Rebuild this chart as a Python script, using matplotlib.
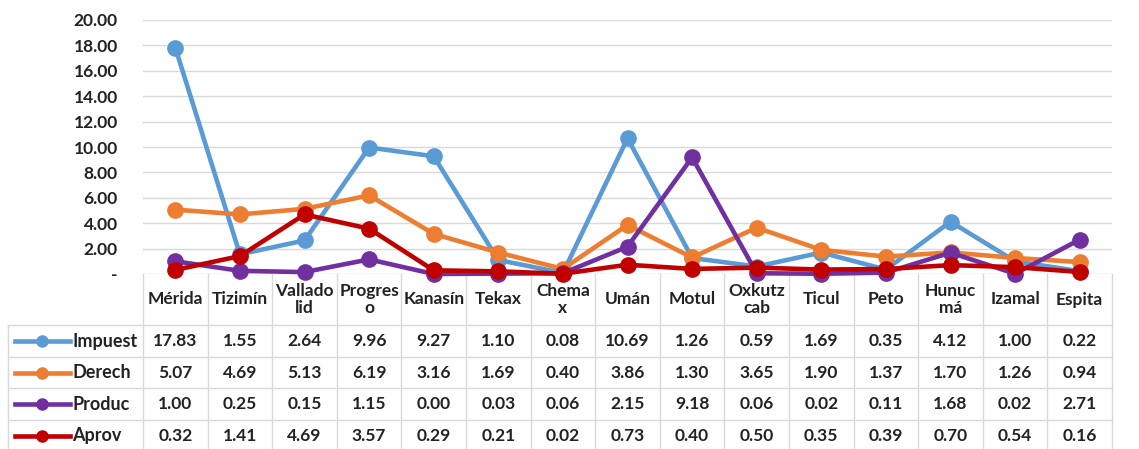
import matplotlib.pyplot as plt
from matplotlib.lines import Line2D

plt.rcParams['font.family'] = ['Lato', 'DejaVu Sans']
plt.rcParams['font.weight'] = 'bold'

municipios = ['Mérida', 'Tizimín', 'Vallado\nlid', 'Progres\no', 'Kanasín', 'Tekax',
              'Chema\nx', 'Umán', 'Motul', 'Oxkutz\ncab', 'Ticul', 'Peto',
              'Hunuc\nmá', 'Izamal', 'Espita']
series_names = ['Impuest', 'Derech', 'Produc', 'Aprov']
impuest = [17.83, 1.55, 2.64, 9.96, 9.27, 1.10, 0.08, 10.69, 1.26, 0.59, 1.69, 0.35, 4.12, 1.00, 0.22]
derech = [5.07, 4.69, 5.13, 6.19, 3.16, 1.69, 0.40, 3.86, 1.30, 3.65, 1.90, 1.37, 1.70, 1.26, 0.94]
produc = [1.00, 0.25, 0.15, 1.15, 0.00, 0.03, 0.06, 2.15, 9.18, 0.06, 0.02, 0.11, 1.68, 0.02, 2.71]
aprov = [0.32, 1.41, 4.69, 3.57, 0.29, 0.21, 0.02, 0.73, 0.40, 0.50, 0.35, 0.39, 0.70, 0.54, 0.16]
colors = ['#5b9bd5', '#ed7d31', '#7030a0', '#c00000']
yticks = [0, 2, 4, 6, 8, 10, 12, 14, 16, 18, 20]

W, H = 1139, 449
L, T, R, B = 143, 20, 1112, 274
fig = plt.figure(figsize=(W / 100, H / 100), dpi=100)
ax = fig.add_axes([L / W, 1 - B / H, (R - L) / W, (B - T) / H])

x = list(range(len(municipios)))
all_series = [impuest, derech, produc, aprov]
for vals, c in zip(all_series, colors):
    ax.plot(x, vals, color=c, lw=3.3, marker='o', ms=11, clip_on=False, zorder=3)

ax.set_xlim(-0.5, len(municipios) - 0.5)
ax.set_ylim(0, 20)
ax.set_yticks(yticks)
ax.set_yticklabels(['-' if v == 0 else f'{v:.2f}' for v in yticks], fontsize=12.5)
ax.tick_params(axis='y', length=0, pad=18, labelcolor='#222222')
ax.set_xticks([])
for v in yticks:
    ax.axhline(v, color='#d9d9d9', lw=1, zorder=1)
for s in ax.spines.values():
    s.set_visible(False)

# data table under the plot
upp = (R - L) / len(municipios)          # pixels per category


def dx(px):
    return -0.5 + (px - L) / upp


def ay(py):
    return (B - py) / (B - T)


tr = ax.get_xaxis_transform()
row_edges = [274, 325, 357, 388, 420, 452]
grid_kw = dict(color='#d9d9d9', lw=1, transform=tr, clip_on=False)
for k in range(len(municipios) + 1):
    ax.add_line(Line2D([k - 0.5, k - 0.5], [ay(row_edges[0]), ay(row_edges[-1])], **grid_kw))
ax.add_line(Line2D([dx(8), dx(8)], [ay(row_edges[1]), ay(row_edges[-1])], **grid_kw))
for py in row_edges[1:]:
    ax.add_line(Line2D([dx(8), len(municipios) - 0.5], [ay(py), ay(py)], **grid_kw))

txt_kw = dict(transform=tr, va='center', color='#222222', clip_on=False)
hy = ay((row_edges[0] + row_edges[1]) / 2)
for i, name in enumerate(municipios):
    ax.text(i, hy, name, ha='center', fontsize=12.5, linespacing=1.05, **txt_kw)

for r, (nm, vals, c) in enumerate(zip(series_names, all_series, colors)):
    cy = ay((row_edges[r + 1] + row_edges[r + 2]) / 2)
    ax.add_line(Line2D([dx(15), dx(70)], [cy, cy], color=c, lw=3.3, transform=tr, clip_on=False))
    ax.add_line(Line2D([dx(42)], [cy], color=c, marker='o', ms=8, transform=tr, clip_on=False))
    ax.text(dx(72), cy, nm, ha='left', fontsize=13, **txt_kw)
    for i, v in enumerate(vals):
        ax.text(i, cy, f'{v:.2f}', ha='center', fontsize=12.5, **txt_kw)

fig.savefig('out.png', dpi=100)
